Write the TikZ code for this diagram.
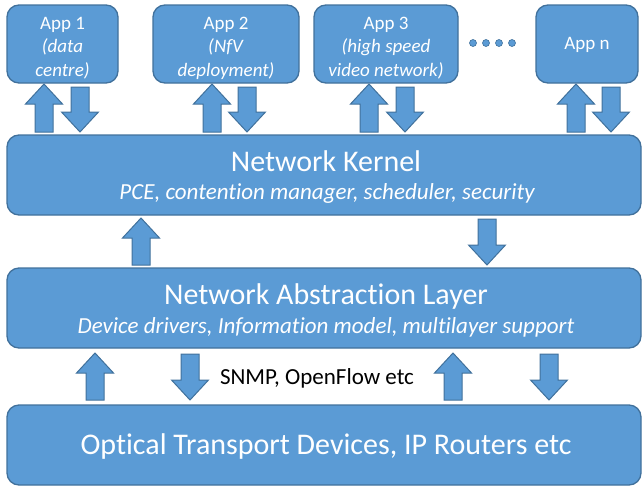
\documentclass[tikz,border=0pt]{standalone}
\usepackage{fontspec}
\setmainfont[RawFeature=-liga]{Carlito}
\definecolor{boxblue}{HTML}{5B9BD5}
\definecolor{edgeblue}{HTML}{41719C}
\tikzset{
  box/.style={draw=edgeblue, fill=boxblue, line width=1.3pt, rounded corners=12pt, inner sep=0pt},
  appbox/.style={box, minimum height=78pt},
  apptext/.style={text=white, align=center, inner sep=0pt, font=\fontsize{19}{23.5}\selectfont},
  bigbox/.style={box, minimum width=634pt, minimum height=80pt},
  title/.style={text=white, font=\fontsize{30}{35}\selectfont, inner sep=0pt},
  subtitle/.style={text=white, font=\fontsize{23}{27}\selectfont\itshape, inner sep=0pt},
  blockarrow/.style={draw=edgeblue, fill=boxblue, line width=1pt, line join=miter},
  dot/.style={circle, fill=boxblue, draw=edgeblue, line width=0.6pt, minimum size=7pt, inner sep=0pt}
}
\newcommand{\UpBA}[3]{\draw[blockarrow] (#1,#2) -- ({#1+18.5},{#2+20}) -- ({#1+9},{#2+20}) -- ({#1+9},#3) -- ({#1-9},#3) -- ({#1-9},{#2+20}) -- ({#1-18.5},{#2+20}) -- cycle;}
\newcommand{\DownBA}[3]{\draw[blockarrow] (#1,#3) -- ({#1+18.5},{#3-20}) -- ({#1+9},{#3-20}) -- ({#1+9},#2) -- ({#1-9},#2) -- ({#1-9},{#3-20}) -- ({#1-18.5},{#3-20}) -- cycle;}
\begin{document}
\begin{tikzpicture}[x=1pt, y=-1pt]
\useasboundingbox (0,0) rectangle (643,488);
% app boxes
\node[appbox, minimum width=111pt] (app1) at (62.5,44) {};
\node[apptext] (app1t) at (62.5,48) {App 1\\\textit{(data}\\\textit{centre)}};
\node[appbox, minimum width=146pt] (app2) at (226,44) {};
\node[apptext] (app2t) at (226,48) {App 2\\\textit{(NfV}\\\textit{deployment)}};
\node[appbox, minimum width=144pt] (app3) at (386,44) {};
\node[apptext] (app3t) at (386,48) {App 3\\\textit{(high speed}\\\textit{video network)}};
\node[appbox, minimum width=102pt] (appn) at (587,44) {};
\node[apptext] (appnt) at (587,45) {App n};
\foreach \i/\x in {1/473,2/486,3/499,4/512} \node[dot] (d\i) at (\x,43) {};
% big boxes
\node[bigbox] (nk) at (324,175) {};
\node[title] (nkt) at (326,161) {Network Kernel};
\node[subtitle] (nks) at (327,193) {PCE, contention manager, scheduler, security};
\node[bigbox] (nal) at (324,308) {};
\node[title] (nalt) at (326,296) {Network Abstraction Layer};
\node[subtitle] (nals) at (326,327) {Device drivers, Information model, multilayer support};
\node[bigbox] (dev) at (324,445) {};
\node[title] (devt) at (326,446) {Optical Transport Devices, IP Routers etc};
\node[font=\fontsize{23}{27}\selectfont, inner sep=0pt] (snmp) at (317,378) {SNMP, OpenFlow etc};
% block arrows apps <-> kernel
\UpBA{44}{84}{132}\DownBA{80}{87}{132}
\UpBA{212}{84}{132}\DownBA{247}{87}{132}
\UpBA{369}{84}{132}\DownBA{405}{87}{132}
\UpBA{576}{84}{132}\DownBA{611}{87}{132}
% kernel <-> NAL
\UpBA{141}{218}{265}\DownBA{487}{219}{265}
% NAL <-> devices
\UpBA{95}{353}{400}\DownBA{190}{354}{400}
\UpBA{453}{353}{400}\DownBA{549}{354}{400}
\end{tikzpicture}
\end{document}
